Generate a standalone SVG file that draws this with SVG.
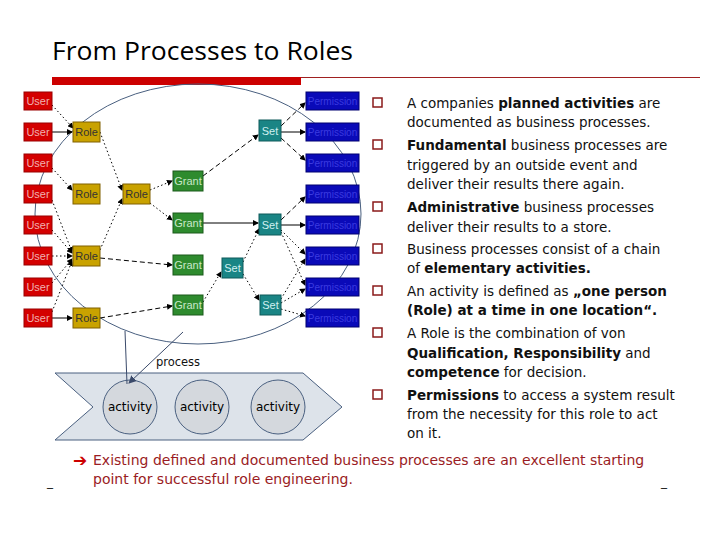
<svg xmlns="http://www.w3.org/2000/svg" width="720" height="540" viewBox="0 0 720 540">
<defs>
<marker id="ah" markerWidth="6" markerHeight="6" refX="5" refY="3" orient="auto" markerUnits="userSpaceOnUse"><path d="M0,0 L6,3 L0,6 z" fill="#000"/></marker>
<marker id="ah2" markerWidth="8" markerHeight="8" refX="7" refY="4" orient="auto" markerUnits="userSpaceOnUse"><path d="M0,0 L8,4 L0,8 z" fill="#3a4a6a"/></marker>
</defs>
<style>
.n text{font-family:"Liberation Sans",Arial,sans-serif;font-size:11px;text-anchor:middle;dominant-baseline:central}
.u rect{fill:#d40000;stroke:#900}
.u text{fill:#f0b0b0}
.r rect{fill:#c9a200;stroke:#806000}
.r text{fill:#333}
.g rect{fill:#2e8b2e;stroke:#1a5a1a}
.g text{fill:#c8e8c8}
.s rect{fill:#1a8585;stroke:#0e5a5a}
.s text{fill:#d0f0f0}
.p rect{fill:#0a0ab8;stroke:#000070}
.p text{fill:#3a3ae0;font-size:10px}
.c line{stroke:#000;stroke-width:1;marker-end:url(#ah)}
.dot{stroke-dasharray:1.5 2.5}
.dash{stroke-dasharray:5 3}
.t{font-family:"DejaVu Sans",Verdana,sans-serif;font-size:13.5px;fill:#111}
.t tspan.b{font-weight:bold}
.bul{fill:none;stroke:#8a1a1a;stroke-width:1.5}
</style>
<text x="52" y="60" font-family="Open Sans, DejaVu Sans, sans-serif" font-size="26" fill="#000" textLength="301" lengthAdjust="spacingAndGlyphs">From Processes to Roles</text>
<rect x="52" y="77" width="249" height="8" fill="#cc0000"/>
<line x1="301" y1="77.5" x2="700" y2="77.5" stroke="#a02020" stroke-width="1"/>

<ellipse cx="198" cy="214" rx="163" ry="130" fill="none" stroke="#4a6080" stroke-width="1"/>

<g class="c" id="connectors">
<line class="dot" x1="52" y1="105" x2="73" y2="128"/>
<line x1="52" y1="132" x2="72" y2="132"/>
<line class="dot" x1="52" y1="168" x2="72" y2="190"/>
<line class="dot" x1="52" y1="200" x2="72" y2="252"/>
<line class="dot" x1="52" y1="230" x2="72" y2="253"/>
<line class="dot" x1="52" y1="256" x2="72" y2="256"/>
<line class="dot" x1="52" y1="283" x2="72" y2="259"/>
<line class="dot" x1="52" y1="312" x2="72" y2="261"/>
<line x1="52" y1="318" x2="72" y2="318"/>
<line class="dot" x1="100" y1="132" x2="122" y2="190"/>
<line class="dot" x1="100" y1="250" x2="122" y2="199"/>
<line class="dot" x1="150" y1="190" x2="172" y2="181"/>
<line class="dot" x1="150" y1="203" x2="172" y2="220"/>
<line class="dash" x1="100" y1="258" x2="172" y2="265"/>
<line class="dash" x1="100" y1="318" x2="172" y2="306"/>
<line class="dash" x1="203" y1="176" x2="258" y2="135"/>
<line x1="203" y1="223" x2="258" y2="223"/>
<line class="dot" x1="203" y1="302" x2="221" y2="272"/>
<line class="dot" x1="243" y1="262" x2="259" y2="229"/>
<line class="dot" x1="243" y1="274" x2="259" y2="300"/>
<line class="dash" x1="281" y1="126" x2="305" y2="103"/>
<line x1="281" y1="132" x2="305" y2="132"/>
<line class="dash" x1="281" y1="138" x2="305" y2="160"/>
<line class="dash" x1="281" y1="220" x2="305" y2="197"/>
<line x1="281" y1="225" x2="305" y2="225"/>
<line class="dot" x1="281" y1="230" x2="305" y2="254"/>
<line class="dot" x1="281" y1="232" x2="305" y2="285"/>
<line class="dot" x1="281" y1="299" x2="305" y2="259"/>
<line class="dot" x1="281" y1="303" x2="305" y2="289"/>
<line class="dot" x1="281" y1="309" x2="305" y2="316"/>
</g>

<g id="users" class="n u">
<g id="user1"><rect x="24" y="92" width="28" height="18"/><text x="38" y="101">User</text></g>
<g id="user2"><rect x="24" y="123" width="28" height="18"/><text x="38" y="132">User</text></g>
<g id="user3"><rect x="24" y="154" width="28" height="18"/><text x="38" y="163">User</text></g>
<g id="user4"><rect x="24" y="185" width="28" height="18"/><text x="38" y="194">User</text></g>
<g id="user5"><rect x="24" y="216" width="28" height="18"/><text x="38" y="225">User</text></g>
<g id="user6"><rect x="24" y="247" width="28" height="18"/><text x="38" y="256">User</text></g>
<g id="user7"><rect x="24" y="278" width="28" height="18"/><text x="38" y="287">User</text></g>
<g id="user8"><rect x="24" y="309" width="28" height="18"/><text x="38" y="318">User</text></g>
</g>
<g id="roles" class="n r">
<g id="role1"><rect x="73" y="122" width="27" height="20"/><text x="86.5" y="132">Role</text></g>
<g id="role2"><rect x="73" y="184" width="27" height="20"/><text x="86.5" y="194">Role</text></g>
<g id="role3"><rect x="73" y="246" width="27" height="20"/><text x="86.5" y="256">Role</text></g>
<g id="role4"><rect x="73" y="308" width="27" height="20"/><text x="86.5" y="318">Role</text></g>
<g id="role5"><rect x="123" y="184" width="27" height="20"/><text x="136.5" y="194">Role</text></g>
</g>
<g id="grants" class="n g">
<g id="grant1"><rect x="173" y="171" width="30" height="20"/><text x="188" y="181">Grant</text></g>
<g id="grant2"><rect x="173" y="213" width="30" height="20"/><text x="188" y="223">Grant</text></g>
<g id="grant3"><rect x="173" y="255" width="30" height="20"/><text x="188" y="265">Grant</text></g>
<g id="grant4"><rect x="173" y="295" width="30" height="20"/><text x="188" y="305">Grant</text></g>
</g>
<g id="sets" class="n s">
<g id="set1"><rect x="259" y="120" width="22" height="21"/><text x="270" y="131">Set</text></g>
<g id="set2"><rect x="259" y="214" width="22" height="21"/><text x="270" y="225">Set</text></g>
<g id="set3"><rect x="222" y="258" width="21" height="20"/><text x="232.5" y="268">Set</text></g>
<g id="set4"><rect x="260" y="295" width="21" height="20"/><text x="270.5" y="305">Set</text></g>
</g>
<g id="perms" class="n p">
<g id="perm1"><rect x="306" y="92" width="53" height="18"/><text x="332.5" y="101">Permission</text></g>
<g id="perm2"><rect x="306" y="123" width="53" height="18"/><text x="332.5" y="132">Permission</text></g>
<g id="perm3"><rect x="306" y="154" width="53" height="18"/><text x="332.5" y="163">Permission</text></g>
<g id="perm4"><rect x="306" y="185" width="53" height="18"/><text x="332.5" y="194">Permission</text></g>
<g id="perm5"><rect x="306" y="216" width="53" height="18"/><text x="332.5" y="225">Permission</text></g>
<g id="perm6"><rect x="306" y="247" width="53" height="18"/><text x="332.5" y="256">Permission</text></g>
<g id="perm7"><rect x="306" y="278" width="53" height="18"/><text x="332.5" y="287">Permission</text></g>
<g id="perm8"><rect x="306" y="309" width="53" height="18"/><text x="332.5" y="318">Permission</text></g>
</g>

<g id="process">
<path d="M55,373 L303,373 L342,407 L303,440 L55,440 L93,407 Z" fill="#dde3ea" stroke="#4a6080" stroke-width="1"/>
<text x="178" y="366" font-family="DejaVu Sans, sans-serif" font-size="11.5" text-anchor="middle" fill="#111">process</text>
<g id="act1"><circle cx="130" cy="407" r="27" fill="#d4d8dd" stroke="#4a6080"/><text x="130" y="411" font-family="DejaVu Sans, sans-serif" font-size="12" text-anchor="middle">activity</text></g>
<g id="act2"><circle cx="202" cy="407" r="27" fill="#d4d8dd" stroke="#4a6080"/><text x="202" y="411" font-family="DejaVu Sans, sans-serif" font-size="12" text-anchor="middle">activity</text></g>
<g id="act3"><circle cx="278" cy="407" r="27" fill="#d4d8dd" stroke="#4a6080"/><text x="278" y="411" font-family="DejaVu Sans, sans-serif" font-size="12" text-anchor="middle">activity</text></g>
</g>
<g id="links" stroke="#3a4a6a" stroke-width="1" fill="none">
<line x1="125" y1="331" x2="127" y2="384"/>
<line x1="183" y1="332" x2="129" y2="383" marker-end="url(#ah2)"/>
</g>

<g id="bullets">
<rect class="bul" x="373" y="98" width="9" height="9"/>
<rect class="bul" x="373" y="140" width="9" height="9"/>
<rect class="bul" x="373" y="202" width="9" height="9"/>
<rect class="bul" x="373" y="244" width="9" height="9"/>
<rect class="bul" x="373" y="286" width="9" height="9"/>
<rect class="bul" x="373" y="328" width="9" height="9"/>
<rect class="bul" x="373" y="390" width="9" height="9"/>
</g>
<text class="t">
<tspan x="407" y="108">A companies <tspan class="b">planned  activities</tspan> are</tspan>
<tspan x="407" y="127">documented as business processes.</tspan>
<tspan x="407" y="150"><tspan class="b">Fundamental</tspan> business processes are</tspan>
<tspan x="407" y="170">triggered by an outside event and</tspan>
<tspan x="407" y="189">deliver their results there again.</tspan>
<tspan x="407" y="212"><tspan class="b">Administrative</tspan> business processes</tspan>
<tspan x="407" y="232">deliver their results to a store.</tspan>
<tspan x="407" y="254">Business processes consist of a chain</tspan>
<tspan x="407" y="273">of <tspan class="b">elementary activities.</tspan></tspan>
<tspan x="407" y="296">An activity is defined as <tspan class="b">„one person</tspan></tspan>
<tspan x="407" y="315" class="b">(Role) at a time in one location“.</tspan>
<tspan x="407" y="338">A Role is the combination of von</tspan>
<tspan x="407" y="358"><tspan class="b">Qualification, Responsibility</tspan> and</tspan>
<tspan x="407" y="377"><tspan class="b">competence</tspan> for decision.</tspan>
<tspan x="407" y="400"><tspan class="b">Permissions</tspan> to access a system result</tspan>
<tspan x="407" y="419">from the necessity for this role to act</tspan>
<tspan x="407" y="438">on it.</tspan>
</text>
<text x="73" y="466" font-family="DejaVu Sans, sans-serif" font-size="17" font-weight="bold" fill="#cc0000">➔</text>
<text font-family="DejaVu Sans, sans-serif" font-size="14" fill="#9a1c24">
<tspan x="93" y="465">Existing defined and documented business processes are an excellent starting</tspan>
<tspan x="93" y="484">point for successful role engineering.</tspan>
</text>
<text x="47" y="486" font-family="DejaVu Sans, sans-serif" font-size="12" fill="#111">_</text>
<text x="661" y="486" font-family="DejaVu Sans, sans-serif" font-size="12" fill="#111">_</text>
</svg>
